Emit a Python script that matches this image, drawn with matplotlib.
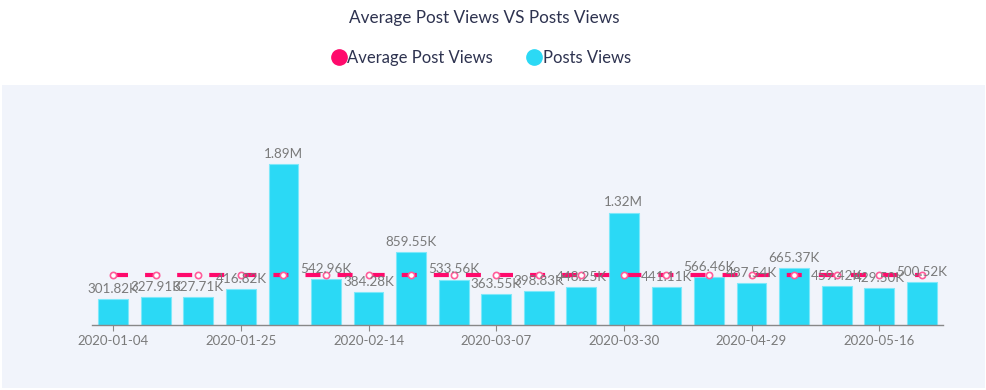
import numpy as np
import matplotlib.pyplot as plt
from matplotlib.patches import Rectangle

# --------------------------------------------------
# Data
# --------------------------------------------------

dates = ["2020-01-04", "2020-01-11", "2020-01-18", "2020-01-25", "2020-02-01",
         "2020-02-07", "2020-02-14", "2020-02-21", "2020-02-28", "2020-03-07",
         "2020-03-14", "2020-03-21", "2020-03-30", "2020-04-08", "2020-04-18",
         "2020-04-29", "2020-05-05", "2020-05-10", "2020-05-16", "2020-05-23"]

posts_views = [301820, 327910, 327710, 416820, 1890000,
               542960, 384280, 859550, 533560, 363550,
               398830, 448250, 1320000, 441110, 566460,
               487540, 665370, 459420, 429500, 500520]

bar_labels = ["301.82K", "327.91K", "327.71K", "416.82K", "1.89M",
              "542.96K", "384.28K", "859.55K", "533.56K", "363.55K",
              "398.83K", "448.25K", "1.32M", "441.11K", "566.46K",
              "487.54K", "665.37K", "459.42K", "429.50K", "500.52K"]

avg_views = [583260] * len(dates)

# --------------------------------------------------
# Figure
# --------------------------------------------------

plt.rcParams["font.family"] = ["Lato", "DejaVu Sans"]

pink = "#ff0a6c"
cyan = "#2bd9f5"

fig = plt.figure(figsize=(9.87, 3.9), dpi=100)

# light panel behind the chart
fig.patches.append(Rectangle((2 / 987, 2 / 390), 983 / 987, 303 / 390,
                             transform=fig.transFigure, facecolor="#f1f4fb",
                             edgecolor="none", zorder=-5))

ax = fig.add_axes([92 / 987, 65 / 390, 851 / 987, 225 / 390])
ax.set_facecolor("none")
ax.set_zorder(2)

x = np.arange(len(dates))

bars = ax.bar(x, posts_views, width=0.7, color=cyan,
              edgecolor="#7de8fa", linewidth=0.8, zorder=2)

for xi, v, lab in zip(x, posts_views, bar_labels):
    ax.annotate(lab, (xi, v), xytext=(0, 3), textcoords="offset points",
                ha="center", va="bottom", fontsize=9.7, color="#7a7a7a",
                zorder=4)

line, = ax.plot(x, avg_views, color=pink, linewidth=3, zorder=3,
                marker="o", markersize=4.5, markerfacecolor="white",
                markeredgecolor="#ff5c9a", markeredgewidth=1.2)
line.set_dashes((3.6, 4.1))

ax.set_xlim(-0.5, len(dates) - 0.5)
ax.set_ylim(0, 2640000)

tick_idx = x[::3]
ax.set_xticks(tick_idx)
ax.set_xticklabels([dates[i] for i in tick_idx], fontsize=9.5, color="#7a7a7a")
ax.tick_params(axis="x", length=4, color="#888888", pad=3)
ax.set_yticks([])

for side in ["top", "right", "left"]:
    ax.spines[side].set_visible(False)
ax.spines["bottom"].set_color("#888888")
ax.spines["bottom"].set_linewidth(1)

# --------------------------------------------------
# Title and legend
# --------------------------------------------------

fig.text(0.491, 1 - 18 / 390, "Average Post Views VS Posts Views",
         ha="center", va="center", fontsize=12.3, color="#2e3350")

handles = [
    plt.Line2D([], [], linestyle="none", marker="o", markersize=11, color=pink),
    plt.Line2D([], [], linestyle="none", marker="o", markersize=11, color=cyan),
]
fig.legend(handles, ["Average Post Views", "Posts Views"],
           loc="center", bbox_to_anchor=(0.486, 1 - 58 / 390), ncol=2,
           frameon=False, fontsize=12, handletextpad=-0.1,
           columnspacing=1.9, labelcolor="#2e3350", handlelength=1.2)

fig.savefig("out.png", dpi=100)
